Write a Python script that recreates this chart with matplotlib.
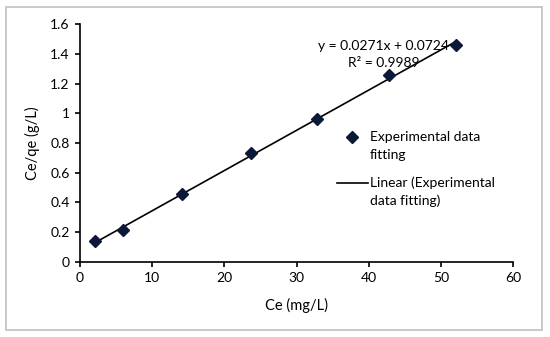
import numpy as np
import matplotlib.pyplot as plt
from matplotlib.patches import Rectangle
from matplotlib.lines import Line2D

plt.rcParams['font.family'] = ['Lato', 'DejaVu Sans']

# data
ce = [2.05, 5.95, 14.2, 23.7, 32.85, 42.85, 52.1]
ce_qe = [0.137, 0.216, 0.457, 0.736, 0.961, 1.256, 1.463]
slope = 0.0271
intercept = 0.0724
r2 = 0.9989

fig = plt.figure(figsize=(5.5, 3.37), dpi=100)
ax = fig.add_axes([0.1455, 0.2234, 0.7872, 0.7045])

# outer frame
fig.patches.append(Rectangle((0.011, 0.021), 0.975, 0.958, transform=fig.transFigure,
                             fill=False, edgecolor='#c0c0c0', lw=1.2))

mcol = '#0c1838'
ax.plot(ce, ce_qe, linestyle='none', marker='D', ms=6.5, color=mcol, zorder=3)
xf = np.array([ce[0], ce[-1]])
ax.plot(xf, slope * xf + intercept, color='black', lw=1.2)

ax.set_xlim(0, 60)
ax.set_ylim(0, 1.6)
ax.set_xticks(range(0, 61, 10))
ax.set_yticks([0, 0.2, 0.4, 0.6, 0.8, 1.0, 1.2, 1.4, 1.6])
ax.set_yticklabels(['0', '0.2', '0.4', '0.6', '0.8', '1', '1.2', '1.4', '1.6'])
for s in ['top', 'right']:
    ax.spines[s].set_visible(False)
for s in ['left', 'bottom']:
    ax.spines[s].set_linewidth(1.2)
ax.tick_params(direction='out', length=3.5, width=1.2, labelsize=10, colors='black', pad=4)
ax.set_xlabel('Ce (mg/L)', fontsize=10.5, labelpad=10)
ax.set_ylabel('Ce/qe (g/L)', fontsize=10.5, labelpad=7.5)

# trendline equation
fig.text(0.697, 0.838, f'y = {slope}x + {intercept}\nR² = {r2}',
         ha='center', va='center', fontsize=10, linespacing=1.55)

# legend (Excel style: symbol level with the first line of its label)
fig.add_artist(Line2D([0.64], [0.5935], transform=fig.transFigure, linestyle='none',
                      marker='D', ms=6.5, color=mcol))
fig.add_artist(Line2D([0.6127, 0.669], [0.457, 0.457], transform=fig.transFigure,
                      color='black', lw=1.2))
leg_lines = [('Experimental data', 0.5935), ('fitting', 0.540),
             ('Linear (Experimental', 0.457), ('data fitting)', 0.4036)]
for txt, y in leg_lines:
    fig.text(0.672, y, txt, ha='left', va='center', fontsize=10)

fig.savefig('out.png', dpi=100)
